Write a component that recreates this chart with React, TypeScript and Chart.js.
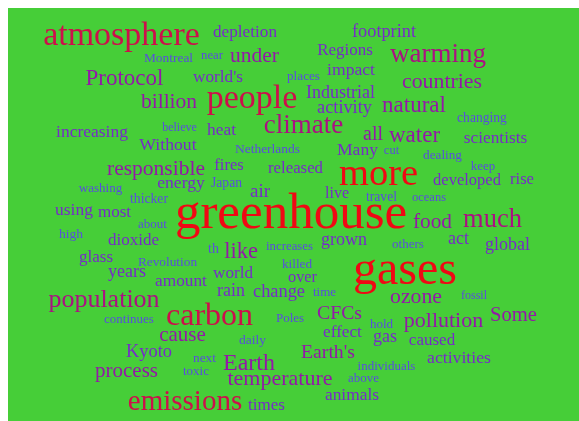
import React, { useEffect, useRef } from "react";
import { Chart, registerables } from "chart.js";

Chart.register(...registerables);

const words = [
  "atmosphere", "Montreal", "Protocol", "billion", "increasing", "believe", "Without", "depletion", "near", "under",
  "world's", "places", "people", "footprint", "Regions", "impact", "Industrial", "activity", "climate", "heat",
  "all", "Netherlands", "Many", "warming", "countries", "natural", "changing", "water", "scientists", "cut",
  "dealing", "keep", "developed", "rise", "travel", "oceans", "more", "greenhouse", "gases", "food",
  "much", "others", "act", "global", "responsible", "washing", "energy", "thicker", "Japan", "fires",
  "released", "air", "live", "using", "most", "about", "high", "dioxide", "glass", "Revolution",
  "years", "amount", "th", "like", "increases", "grown", "killed", "world", "over", "population",
  "continues", "carbon", "cause", "Kyoto", "next", "process", "toxic", "emissions", "rain", "change",
  "time", "Poles", "CFCs", "effect", "hold", "gas", "daily", "Earth's", "Earth", "individuals",
  "temperature", "above", "animals", "times", "ozone", "fossil", "pollution", "Some", "caused", "activities",
];

const wordX = [
  121.5, 168.5, 124.5, 169, 92, 179.5, 168, 245, 212, 254.5,
  218, 303.5, 252, 384, 345, 351, 340.5, 344.5, 303.5, 221.5,
  373, 267.5, 357.5, 438, 442, 414, 482, 414.5, 495.5, 391.5,
  442.5, 483, 467, 522, 381.5, 429, 378.5, 291, 405, 432.5,
  492.5, 408, 458.5, 507.5, 156, 100.5, 181, 149, 226.5, 229,
  295.5, 260, 337, 74, 114.5, 152.5, 71, 133.5, 96, 167.5,
  127, 181, 213.5, 241, 289.5, 344, 297, 233, 302.5, 104,
  129, 209.5, 182.5, 149, 204.5, 126.5, 196, 185, 231, 279,
  324.5, 290, 339.5, 342.5, 381.5, 385, 252.5, 328, 249, 386.5,
  280, 363.5, 352, 266.5, 416, 474, 443.5, 513.5, 432, 459,
];

const wordY = [
  45, 62, 85, 108, 137, 131, 150, 37, 59, 62,
  82, 80, 108, 37, 55, 75, 98, 113, 133, 135,
  140, 153, 155, 62, 88, 112, 122, 142, 143, 154,
  159, 170, 185, 184, 201, 201, 185, 228, 284, 228,
  227, 248, 244, 250, 175, 192, 188, 203, 187, 170,
  173, 197, 198, 215, 217, 228, 238, 245, 262, 266,
  277, 286, 253, 258, 250, 245, 268, 278, 282, 307,
  323, 325, 341, 357, 362, 377, 375, 410, 296, 297,
  296, 322, 319, 337, 328, 342, 344, 358, 370, 370,
  385, 382, 400, 410, 303, 299, 327, 321, 345, 363,
];

const weights = [
  34, 13.4, 23, 21.5, 17.5, 12, 17.7, 17.2, 12.8, 21.5,
  17.2, 13.2, 34, 18.3, 17, 17.6, 18, 18.3, 27, 17.4,
  20, 13.5, 17.6, 27, 21.8, 23, 13.6, 23, 17.3, 12.5,
  13.2, 12.9, 16.5, 16.6, 13.6, 12.5, 38.5, 51, 48, 21.3,
  26.5, 13, 18, 18, 21.5, 13, 17.6, 13.7, 13.6, 16.5,
  16.8, 19, 16, 17.5, 17, 13, 13.5, 17, 17, 13.3,
  18, 17.3, 14, 22.5, 12.8, 18, 13.2, 17.1, 16.3, 26,
  13, 32, 21, 18.4, 13.4, 21, 13, 29, 18, 18.4,
  13, 13, 19.7, 17.2, 13, 18, 13.5, 19.7, 24, 13,
  22, 13, 17.4, 17, 21.8, 12, 22, 20.6, 17, 17.7,
];

function colorFor(w: number): string {
  if (w >= 38) return "rgb(240,8,20)";
  if (w >= 29) return "rgb(205,15,75)";
  if (w >= 25) return "rgb(172,16,130)";
  if (w >= 19.5) return "rgb(148,24,168)";
  if (w >= 15) return "rgb(118,44,200)";
  return "rgb(88,78,222)";
}

const wordPlugin = {
  id: "wordText",
  beforeDraw(chart: any) {
    const ctx = chart.ctx;
    ctx.save();
    ctx.fillStyle = "rgb(70,206,56)";
    ctx.fillRect(0, 0, chart.width, chart.height);
    ctx.restore();
  },
  afterDatasetsDraw(chart: any) {
    const ctx = chart.ctx;
    const meta = chart.getDatasetMeta(0);
    ctx.save();
    ctx.textAlign = "center";
    ctx.textBaseline = "alphabetic";
    meta.data.forEach((el: any, i: number) => {
      const w = weights[i];
      ctx.font = `${w}px "Liberation Serif", serif`;
      ctx.fillStyle = colorFor(w);
      ctx.fillText(words[i], el.x, el.y);
    });
    ctx.restore();
  },
};

export default function App() {
  const ref = useRef<HTMLCanvasElement | null>(null);
  useEffect(() => {
    if (!ref.current) return;
    const chart = new Chart(ref.current, {
      type: "scatter",
      data: {
        datasets: [
          {
            label: "words",
            data: words.map((_, i) => ({ x: wordX[i], y: wordY[i] })),
            pointRadius: 0,
            pointHoverRadius: 0,
          },
        ],
      },
      options: {
        animation: false,
        responsive: true,
        maintainAspectRatio: false,
        layout: { padding: 0 },
        plugins: { legend: { display: false }, tooltip: { enabled: false } },
        events: [],
        scales: {
          x: { type: "linear", min: 8, max: 579, display: false },
          y: { type: "linear", min: 8, max: 421, reverse: true, display: false },
        },
      },
      plugins: [wordPlugin],
    });
    return () => chart.destroy();
  }, []);
  return (
    <div style={{ position: "fixed", left: 8, top: 8, width: 571, height: 413 }}>
      <canvas ref={ref} />
    </div>
  );
}
